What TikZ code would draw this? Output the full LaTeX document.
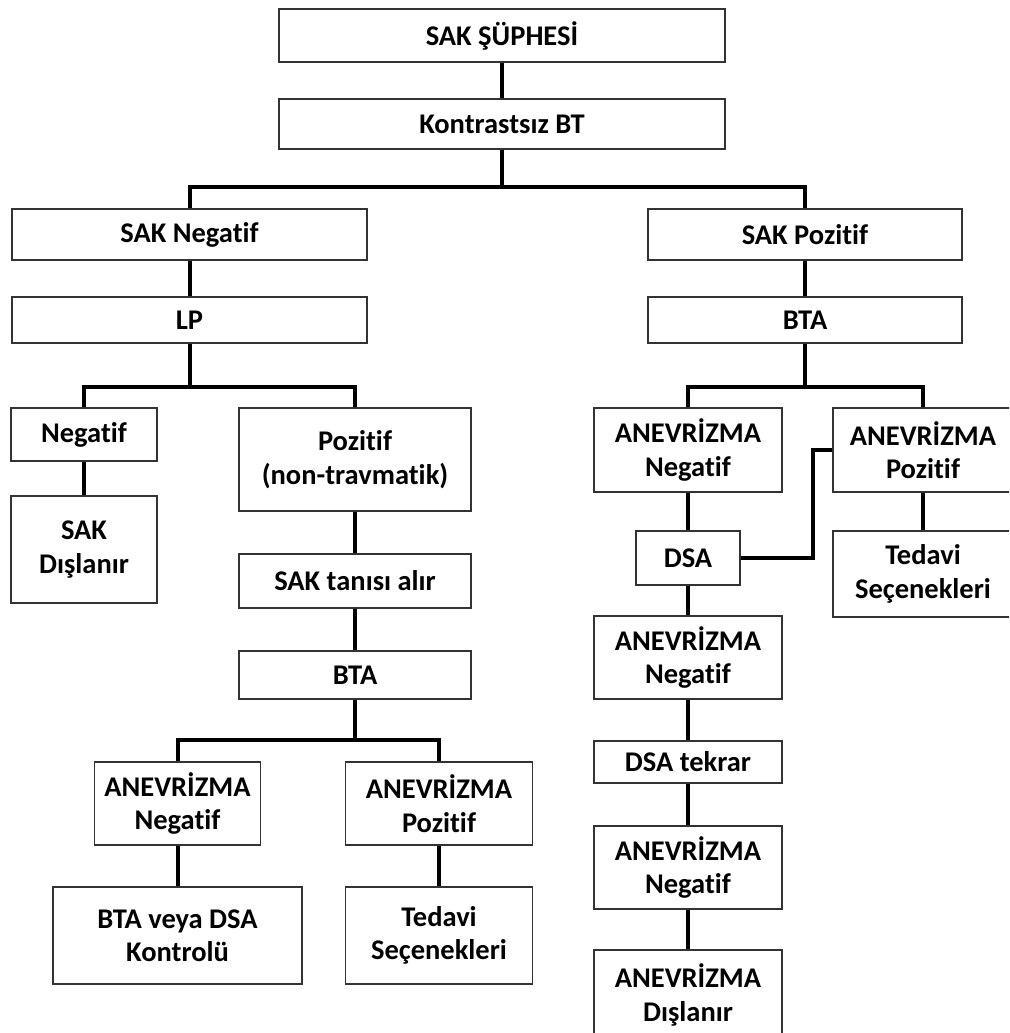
\documentclass[tikz,border=0pt]{standalone}
\usepackage{fontspec}
\setmainfont[Ligatures=NoCommon]{Carlito}

\begin{document}
\begin{tikzpicture}[x=1pt,y=-1pt,
  box/.style 2 args={draw=black!80,line width=1.3pt,fill=white,align=center,
    font=\fontsize{28.5}{33.5}\selectfont\bfseries,inner sep=0pt,
    minimum width=#1pt,minimum height=#2pt},
  link/.style={line width=4pt}]
\clip (0,0) rectangle (1009,1033);
% top
\node[box={446}{53}] (susp) at (502,35.5) {SAK ŞÜPHESİ};
\node[box={446}{50}] (ct) at (502,124) {Kontrastsız BT};
\node[box={355}{51}] (sakneg) at (189.5,234.5) {SAK Negatif};
\node[box={314}{51}] (sakpoz) at (805,234.5) {SAK Pozitif};
\node[box={355}{46}] (lp) at (189.5,320) {LP};
\node[box={314}{46}] (btaR) at (805,320) {BTA};
% left branch
\node[box={146}{53}] (neg) at (84,434.5) {Negatif};
\node[box={232}{103}] (poz) at (355,459.5) {Pozitif\\(non-travmatik)};
\node[box={146}{107}] (excl) at (84,549.5) {SAK\\Dışlanır};
\node[box={232}{54}] (dx) at (355,581) {SAK tanısı alır};
\node[box={232}{48}] (btaL) at (355,675) {BTA};
\node[box={166}{83}] (anegL) at (177.5,803.5) {ANEVRİZMA\\Negatif};
\node[box={187}{83}] (aposL) at (439,803.5) {ANEVRİZMA\\Pozitif};
\node[box={249}{97}] (ctrl) at (177.5,935.5) {BTA veya DSA\\Kontrolü};
\node[box={187}{97}] (tedL) at (439,935.5) {Tedavi\\Seçenekleri};
% right branch
\node[box={188}{84}] (anegR) at (688,450) {ANEVRİZMA\\Negatif};
\node[box={180}{84}] (aposR) at (923,450) {ANEVRİZMA\\Pozitif};
\node[box={104}{54}] (dsa) at (688,558) {DSA};
\node[box={180}{86}] (tedR) at (923,574) {Tedavi\\Seçenekleri};
\node[box={188}{83}] (anegR2) at (688,657.5) {ANEVRİZMA\\Negatif};
\node[box={188}{42}] (dsat) at (688,762) {DSA tekrar};
\node[box={188}{83}] (anegR3) at (688,867.5) {ANEVRİZMA\\Negatif};
\node[box={188}{90}] (exclR) at (688,995) {ANEVRİZMA\\Dışlanır};
% junctions
\coordinate (j1) at (502,187);
\coordinate (j2) at (189.5,387);
\coordinate (j3) at (355,740);
\coordinate (j4) at (805,387);
% links
\draw[link] (susp) -- (ct);
\draw[link] (ct) -- (j1);
\draw[link] (sakneg.north) |- (j1) -| (sakpoz.north);
\draw[link] (sakneg) -- (lp);
\draw[link] (sakpoz) -- (btaR);
\draw[link] (lp) -- (j2);
\draw[link] (neg.north) |- (j2) -| (poz.north);
\draw[link] (neg) -- (excl);
\draw[link] (poz) -- (dx);
\draw[link] (dx) -- (btaL);
\draw[link] (btaL) -- (j3);
\draw[link] (anegL.north) |- (j3) -| (aposL.north);
\draw[link] (anegL) -- (ctrl);
\draw[link] (aposL) -- (tedL);
\draw[link] (btaR) -- (j4);
\draw[link] (anegR.north) |- (j4) -| (aposR.north);
\draw[link] (anegR) -- (dsa);
\draw[link] (dsa) -- (anegR2);
\draw[link] (anegR2) -- (dsat);
\draw[link] (dsat) -- (anegR3);
\draw[link] (anegR3) -- (exclR);
\draw[link] (aposR) -- (tedR);
\draw[link] (dsa.east) -- ++(72,0) |- (aposR.west);
\end{tikzpicture}
\end{document}
